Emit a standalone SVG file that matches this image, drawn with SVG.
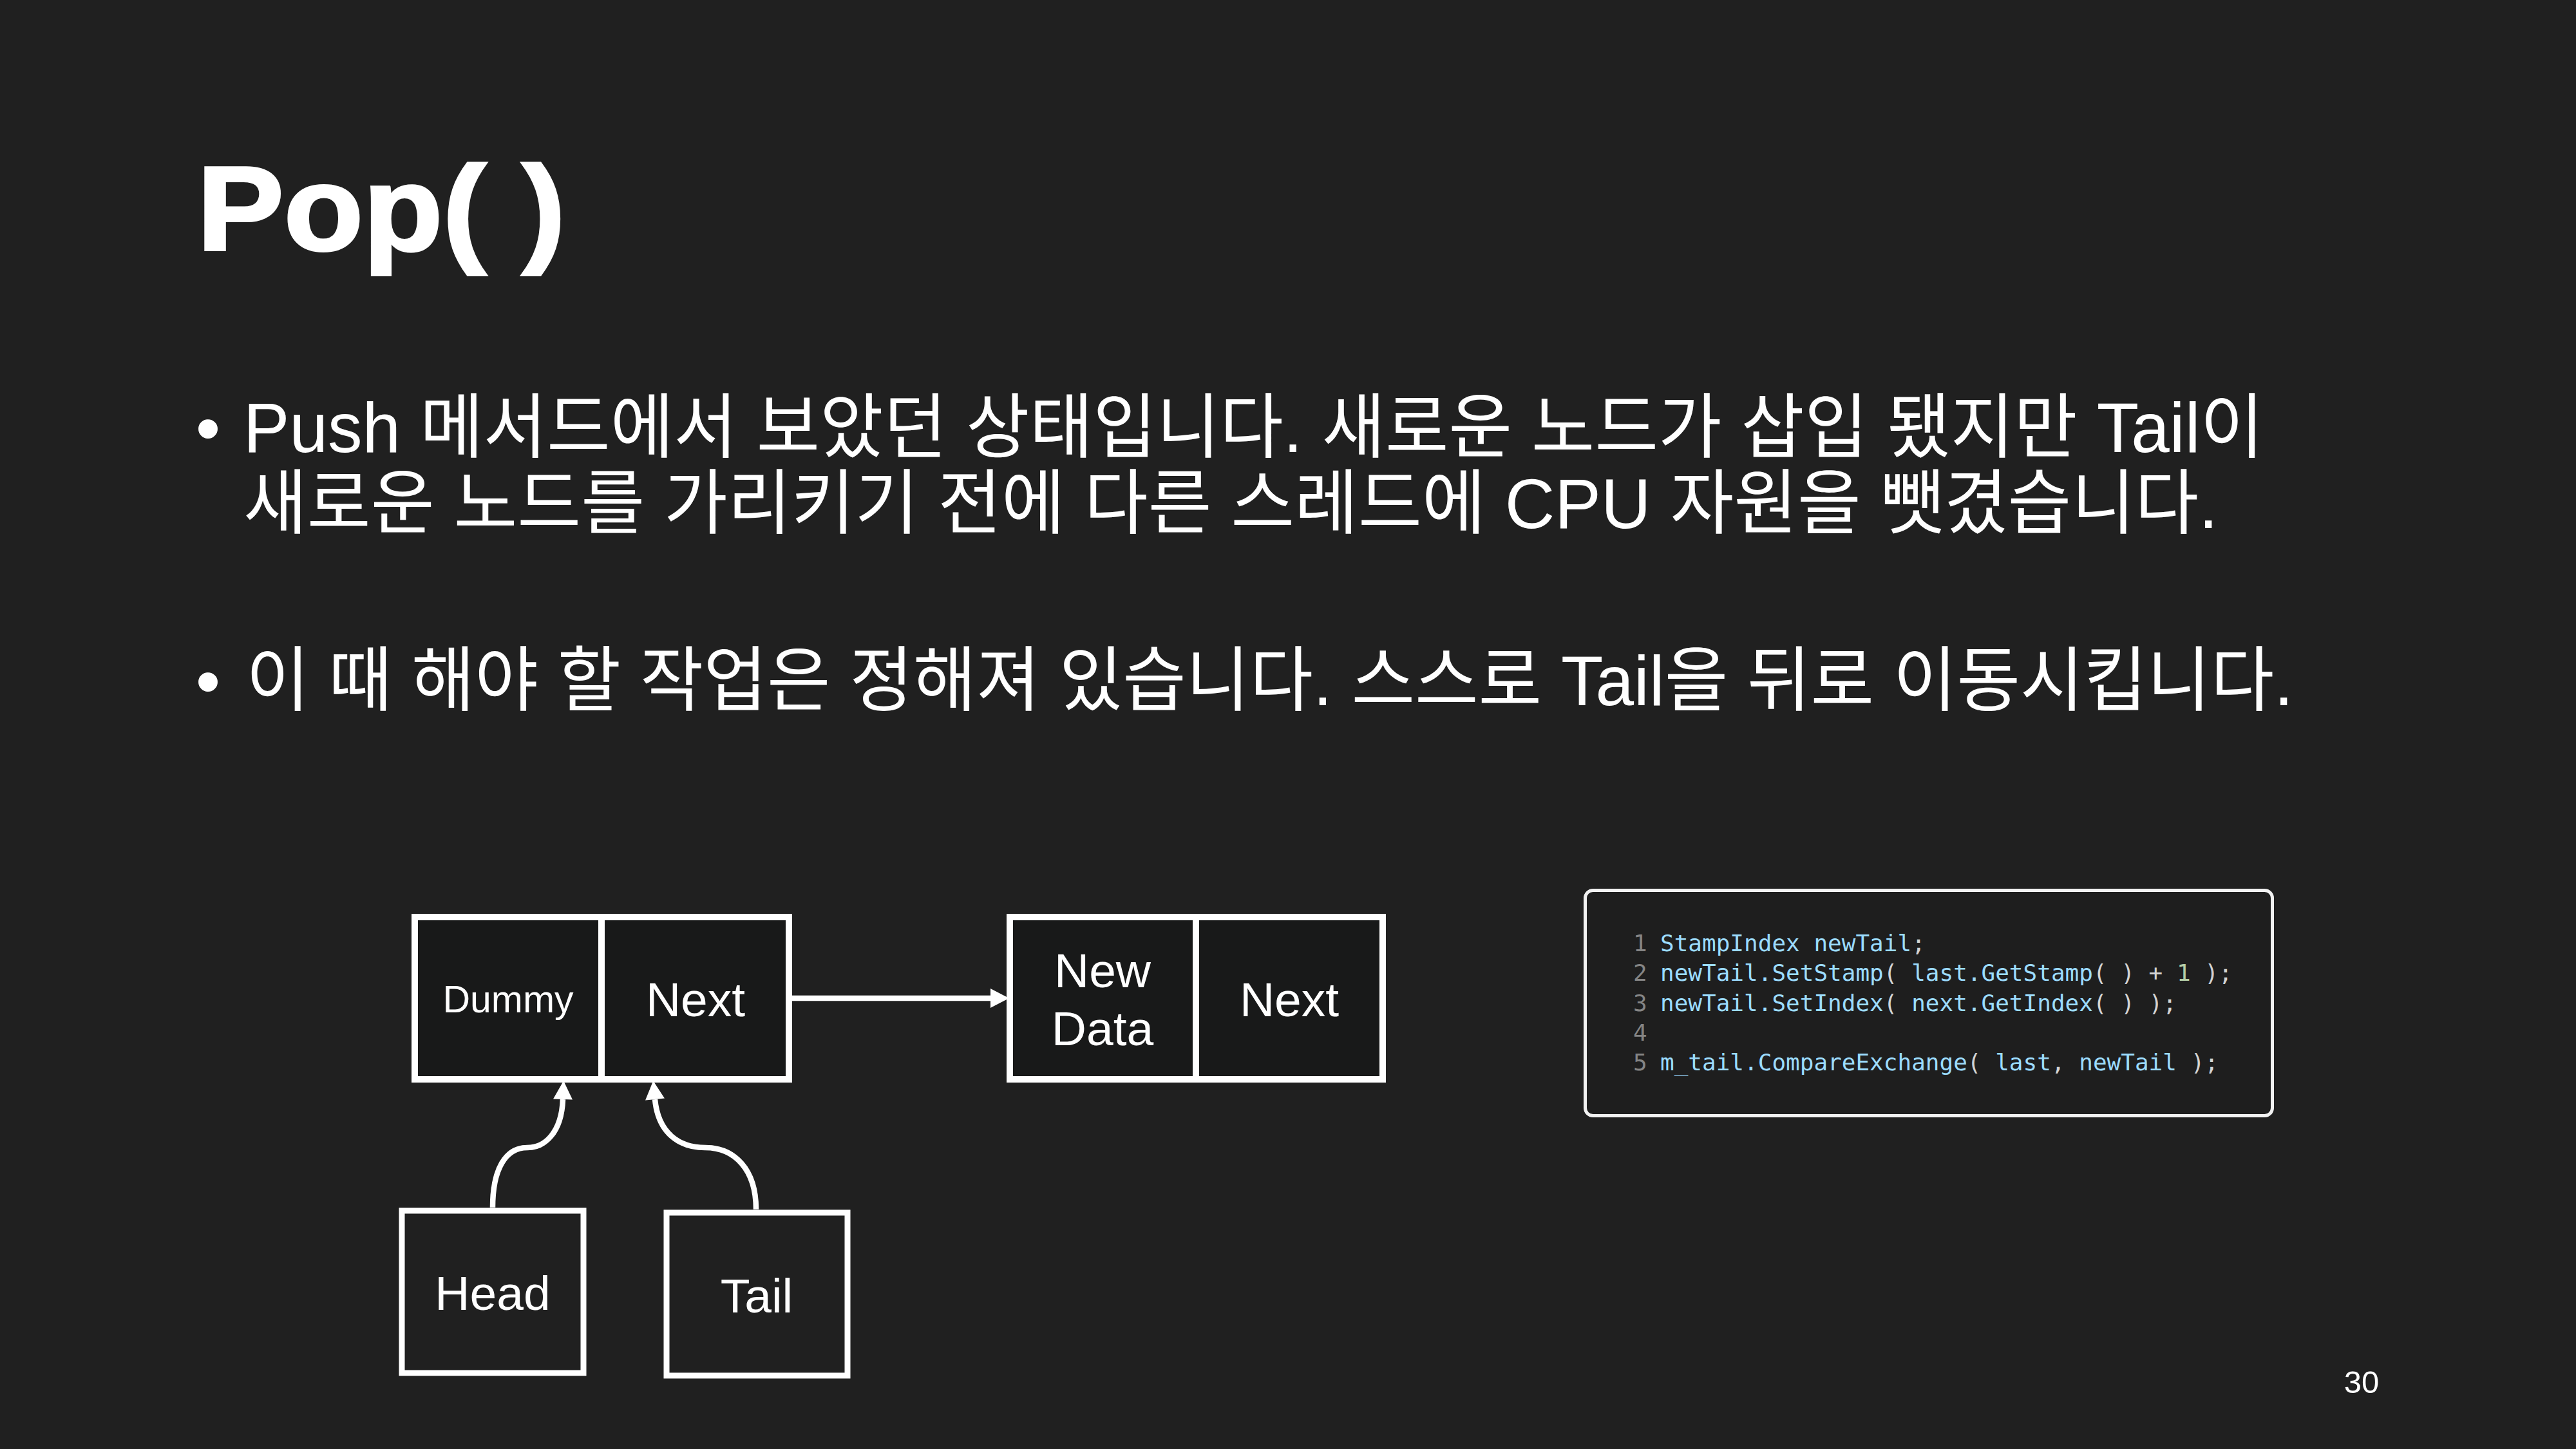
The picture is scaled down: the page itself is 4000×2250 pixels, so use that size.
<svg xmlns="http://www.w3.org/2000/svg" width="4000" height="2250" viewBox="0 0 4000 2250">
<style>
  .txt { font-family: "Liberation Sans", "Noto Sans CJK KR", sans-serif; fill: #ffffff; }
  .title { font-family: "Liberation Sans", sans-serif; font-weight: bold; font-size: 186px; fill: #ffffff; stroke: #ffffff; stroke-width: 4px; }
  .body { font-size: 110px; }
  .lbl { font-family: "Liberation Sans", sans-serif; fill: #ffffff; font-size: 75px; text-anchor: middle; }
  .cell { fill: #181919; stroke: #ffffff; stroke-width: 10; }
  .ptr { fill: #202020; stroke: #ffffff; stroke-width: 9; }
  .edge { fill: none; stroke: #ffffff; stroke-width: 8.5; }
  .code { font-family: "DejaVu Sans Mono", monospace; font-size: 36px; white-space: pre; }
  .ln { fill: #858585; }
  .id { fill: #9cdcfe; }
  .pn { fill: #d4d4d4; }
  .num { fill: #b5cea8; }
</style>
<defs>
  <marker id="arrow" markerUnits="userSpaceOnUse" markerWidth="30" markerHeight="30" refX="0" refY="13.5" orient="auto" viewBox="0 0 26 27">
    <path d="M0,0 L26,13.5 L0,27 z" fill="#ffffff"/>
  </marker>
</defs>
<rect x="0" y="0" width="4000" height="2250" fill="#202020"/>

<text class="title" x="306" y="388" textLength="572" lengthAdjust="spacingAndGlyphs">Pop( )</text>

<text class="txt body" x="323" y="702" text-anchor="middle">•</text>
<text class="txt body" x="378" y="702" textLength="3137" lengthAdjust="spacingAndGlyphs">Push 메서드에서 보았던 상태입니다. 새로운 노드가 삽입 됐지만 Tail이</text>
<text class="txt body" x="378" y="820" textLength="3066" lengthAdjust="spacingAndGlyphs">새로운 노드를 가리키기 전에 다른 스레드에 CPU 자원을 뺏겼습니다.</text>
<text class="txt body" x="323" y="1095" text-anchor="middle">•</text>
<text class="txt body" x="382" y="1095" textLength="3179" lengthAdjust="spacingAndGlyphs">이 때 해야 할 작업은 정해져 있습니다. 스스로 Tail을 뒤로 이동시킵니다.</text>

<g id="connectors">
  <path class="edge" d="M1230,1550 L1538,1550" marker-end="url(#arrow)"/>
  <path class="edge" d="M765,1875 C765,1815 785,1782 819,1782 C845,1782 872,1760 874,1707" marker-end="url(#arrow)"/>
  <path class="edge" d="M1174,1878 C1174,1815 1140,1782 1095,1782 C1055,1782 1022,1760 1017,1707" marker-end="url(#arrow)"/>
</g>

<g id="node-dummy">
  <rect class="cell" x="644" y="1424" width="290" height="252"/>
  <text class="lbl" x="789" y="1572" style="font-size:59px">Dummy</text>
</g>
<g id="node-dummy-next">
  <rect class="cell" x="934" y="1424" width="291" height="252"/>
  <text class="lbl" x="1080" y="1578">Next</text>
</g>
<g id="node-newdata">
  <rect class="cell" x="1568" y="1424" width="289" height="252"/>
  <text class="lbl" x="1712" y="1533">New</text>
  <text class="lbl" x="1712" y="1623">Data</text>
</g>
<g id="node-newdata-next">
  <rect class="cell" x="1857" y="1424" width="290" height="252"/>
  <text class="lbl" x="2002" y="1578">Next</text>
</g>
<g id="node-head">
  <rect class="ptr" x="624" y="1880" width="282" height="252"/>
  <text class="lbl" x="765" y="2034">Head</text>
</g>
<g id="node-tail">
  <rect class="ptr" x="1035" y="1883" width="281" height="253"/>
  <text class="lbl" x="1175" y="2038">Tail</text>
</g>

<g id="code-box">
  <rect x="2461.5" y="1382.5" width="1067" height="350" rx="12" fill="#1e1e1e" stroke="#f2f2f2" stroke-width="5"/>
  <text class="code ln" x="2536" y="1477">1</text>
  <text class="code ln" x="2536" y="1523">2</text>
  <text class="code ln" x="2536" y="1570">3</text>
  <text class="code ln" x="2536" y="1616">4</text>
  <text class="code ln" x="2536" y="1662">5</text>
  <text class="code" x="2578" y="1477"><tspan class="id">StampIndex newTail</tspan><tspan class="pn">;</tspan></text>
  <text class="code" x="2578" y="1523"><tspan class="id">newTail.SetStamp</tspan><tspan class="pn">( </tspan><tspan class="id">last.GetStamp</tspan><tspan class="pn">( ) + </tspan><tspan class="num">1</tspan><tspan class="pn"> );</tspan></text>
  <text class="code" x="2578" y="1570"><tspan class="id">newTail.SetIndex</tspan><tspan class="pn">( </tspan><tspan class="id">next.GetIndex</tspan><tspan class="pn">( ) );</tspan></text>
  <text class="code" x="2578" y="1662"><tspan class="id">m_tail.CompareExchange</tspan><tspan class="pn">( </tspan><tspan class="id">last</tspan><tspan class="pn">, </tspan><tspan class="id">newTail</tspan><tspan class="pn"> );</tspan></text>
</g>

<text class="txt" x="3667" y="2163" text-anchor="middle" style="font-size:49px">30</text>
</svg>
